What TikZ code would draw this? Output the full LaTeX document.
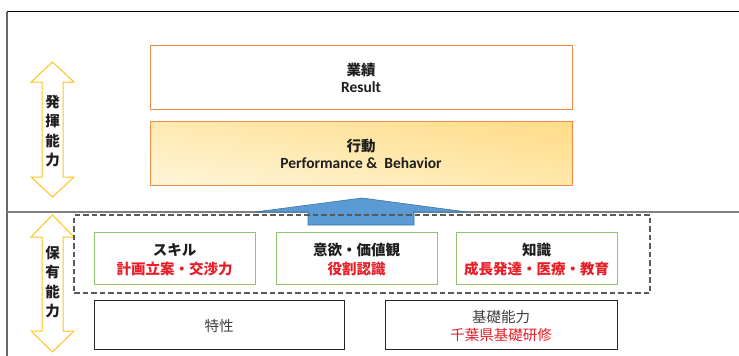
\documentclass[tikz,border=0pt]{standalone}
\usepackage{fontspec}
\usetikzlibrary{shadings}
\setmainfont{Carlito}
\newfontfamily\jp{Noto Sans CJK JP}
\definecolor{orbord}{RGB}{240,140,70}
\definecolor{grbord}{RGB}{146,196,106}
\definecolor{gold}{RGB}{255,196,30}
\definecolor{redtxt}{RGB}{232,30,40}
\definecolor{txt}{RGB}{30,30,30}
\definecolor{bluefill}{RGB}{91,155,213}
\definecolor{blueedge}{RGB}{65,113,156}
\definecolor{dashgray}{RGB}{90,90,90}
\definecolor{shLL}{RGB}{255,245,218}
\definecolor{shUR}{RGB}{255,220,135}
\definecolor{shUL}{RGB}{255,233,176}
\definecolor{shLR}{RGB}{255,232,170}
\tikzset{
  orbox/.style={draw=orbord, line width=1pt, minimum width=422, minimum height=64, inner sep=0pt},
  grbox/.style={draw=grbord, line width=1pt, minimum width=161, minimum height=52, inner sep=0pt},
  bkbox/.style={draw=black!85, line width=0.9pt, minimum height=49, inner sep=0pt},
  jpb/.style={font=\jp\bfseries\fontsize{14.5}{16}\selectfont, text=txt, inner sep=0pt},
  jpl/.style={font=\jp\fontsize{14.5}{16}\selectfont, text=black!75, inner sep=0pt},
  enb/.style={font=\bfseries\fontsize{15.5}{17}\selectfont, text=txt, inner sep=0pt},
  redb/.style={font=\jp\bfseries\fontsize{14.5}{16}\selectfont, text=redtxt, inner sep=0pt},
  redl/.style={font=\jp\fontsize{14.5}{16}\selectfont, text=redtxt, inner sep=0pt},
  vtext/.style={font=\jp\bfseries\fontsize{14.5}{19.5}\selectfont, text=txt, align=center, inner sep=0pt},
  yarrow/.style={draw=gold, line width=1pt, fill=white},
}
\begin{document}
\begin{tikzpicture}[x=1pt,y=-1pt]
\useasboundingbox (0,0) rectangle (739,356);
% frame
\draw[black, line width=1pt] (6.5,11.5) -- (739,11.5);
\draw[black!60, line width=1.2pt] (7,11.5) -- (7,356);
\draw[black!50, line width=1.3pt] (7,212) -- (739,212);

% upper boxes
\node[orbox] (result) at (361,77) {};
\node[jpb] (resultjp) at (361,70) {業績};
\node[enb] (resulten) at (361,87) {Result};

\node[orbox, lower left=shLL, upper right=shUR, upper left=shUL, lower right=shLR] (behav) at (361,153) {};
\node[jpb] (behavjp) at (361,146) {行動};
\node[enb] (behaven) at (361,163) {Performance \&\ \ Behavior};

% yellow double arrows
\draw[yarrow] (52.5,62) -- (74,82) -- (63,82) -- (63,177) -- (74,177) -- (52.5,197)
  -- (31,177) -- (42,177) -- (42,82) -- (31,82) -- cycle;
\node[vtext] (hakki) at (52.5,131) {発\\揮\\能\\力};
\draw[yarrow] (52.5,215) -- (74,237) -- (63,237) -- (63,331) -- (74,331) -- (52.5,352)
  -- (31,331) -- (42,331) -- (42,237) -- (31,237) -- cycle;
\node[vtext] (hoyu) at (52.5,282) {保\\有\\能\\力};

% blue arrow
\draw[fill=bluefill, draw=blueedge, line width=0.6pt] (308,225) -- (308,212) -- (255,212) -- (362,198)
  -- (467,212) -- (414,212) -- (414,225) -- cycle;

% dashed group
\node[draw=dashgray, dash pattern=on 5.5pt off 3pt, line width=1.2pt, minimum width=576, minimum height=78, inner sep=0pt] (group) at (362,254) {};

% green boxes
\node[grbox] (skill) at (174.5,258) {};
\node[jpb] (skilla) at (174.5,250) {スキル};
\node[redb] (skillb) at (174.5,269) {計画立案・交渉力};

\node[grbox] (motiv) at (356.5,258) {};
\node[jpb] (motiva) at (356.5,250) {意欲・価値観};
\node[redb] (motivb) at (356.5,269) {役割認識};

\node[grbox] (know) at (536.5,258) {};
\node[jpb] (knowa) at (536.5,250) {知識};
\node[redb] (knowb) at (536.5,269) {成長発達・医療・教育};

% bottom boxes
\node[bkbox, minimum width=250] (trait) at (219,324.5) {};
\node[jpl] (traita) at (219,326) {特性};
\node[bkbox, minimum width=232] (basic) at (501,324.5) {};
\node[jpl] (basica) at (501,317) {基礎能力};
\node[redl] (basicb) at (501,335) {千葉県基礎研修};
\end{tikzpicture}
\end{document}
